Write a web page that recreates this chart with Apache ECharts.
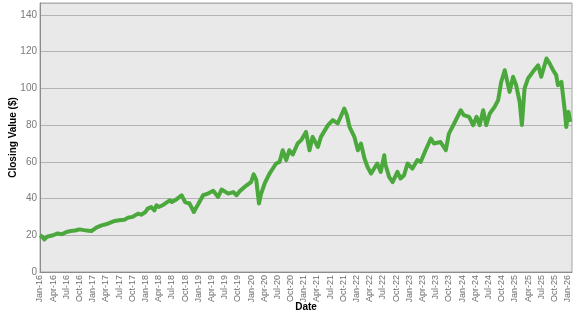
<!DOCTYPE html>
<html>
<head>
<meta charset="utf-8">
<script src="https://cdn.jsdelivr.net/npm/echarts@6/dist/echarts.min.js"></script>
<style>
html,body{margin:0;padding:0;background:#fff;}
#chart{width:577px;height:315px;}
</style>
</head>
<body>
<div id="chart"></div>
<script>
var dates = [
"2016-01-01","2016-01-16","2016-02-01","2016-02-16","2016-03-01","2016-04-01","2016-05-01","2016-06-01","2016-07-01","2016-08-01",
"2016-09-01","2016-10-01","2016-11-01","2016-12-01","2016-12-22","2017-01-01","2017-01-25","2017-03-01","2017-04-01","2017-06-01",
"2017-07-01","2017-08-07","2017-09-01","2017-10-01","2017-11-10","2017-12-01","2018-01-01","2018-01-16","2018-02-10","2018-03-01",
"2018-03-16","2018-04-01","2018-05-01","2018-06-16","2018-07-01","2018-08-01","2018-09-07","2018-10-01","2018-11-01","2018-12-01",
"2018-12-16","2019-01-01","2019-02-04","2019-03-01","2019-04-13","2019-05-16","2019-06-10","2019-07-25","2019-09-01","2019-09-22",
"2019-10-16","2019-12-01","2020-01-01","2020-01-19","2020-02-07","2020-02-25","2020-03-10","2020-04-04","2020-05-07","2020-06-22",
"2020-07-16","2020-08-07","2020-09-01","2020-09-22","2020-10-16","2020-11-19","2020-12-13","2021-01-16","2021-02-10","2021-03-01",
"2021-04-07","2021-04-28","2021-06-16","2021-07-19","2021-08-22","2021-09-10","2021-10-07","2021-10-25","2021-11-13","2021-12-16",
"2022-01-10","2022-02-01","2022-02-25","2022-03-16","2022-04-10","2022-05-22","2022-06-16","2022-07-10","2022-07-16","2022-08-13",
"2022-09-07","2022-10-10","2022-11-01","2022-11-25","2022-12-19","2023-01-22","2023-02-25","2023-03-19","2023-04-22","2023-05-28",
"2023-06-19","2023-08-04","2023-09-10","2023-10-01","2023-11-07","2023-12-22","2024-01-13","2024-02-19","2024-03-16","2024-04-10",
"2024-05-01","2024-05-25","2024-06-16","2024-07-10","2024-08-13","2024-09-07","2024-09-28","2024-10-22","2024-11-25","2024-12-19",
"2025-01-10","2025-02-04","2025-02-19","2025-03-07","2025-04-01","2025-05-04","2025-06-10","2025-07-01","2025-08-07","2025-08-28",
"2025-09-22","2025-10-13","2025-10-25","2025-11-19","2025-12-10","2025-12-22","2026-01-07","2026-01-19"
];
// Closing values ($)
var closes = [
20,19.2,17.7,19,19.5,20,21,20.6,21.8,22.3,
22.6,23.2,22.8,22.5,22.3,22.7,24.2,25.4,26,27.8,
28.2,28.5,29.5,30,31.8,31.2,32.7,34.5,35.4,33.5,
36.3,35.4,36.5,39,38.1,39.5,41.8,38.1,37.3,32.7,
35,37,41.8,42.5,44.2,40.9,44.9,42.7,43.5,41.8,
44.2,47.2,49,53.2,50,37.3,42.7,48.2,53.6,59.1,
60,66.3,60.9,66.3,64,70,71.8,76.3,66.3,73.6,
68.1,73.6,80,82.7,80.9,84,89,85.4,79,73.6,
66.3,70,61.8,57.2,53.6,59.1,54.5,63.6,59.1,51.8,
49,54.5,50.9,52.7,59.1,56.3,60.9,60,66.3,72.7,
70,70.8,66.3,75.4,80.9,88.1,85.4,84.5,80,84.5,
80,88.1,80,86.3,89.9,93.6,103.5,109.9,98.1,106.3,
101.7,92.6,80,99.9,105.4,109,112.6,106.3,116.3,113.6,
109.9,107.2,101.7,103.5,89,79,87.2,81.8
];
// Tick labels
var quarterNames = ["Jan","Apr","Jul","Oct"];
var yTicks = [0,20,40,60,80,100,120,140];

function monthIndex(s){
  var p = s.split("-");
  return (parseInt(p[0],10)-2016)*12 + (parseInt(p[1],10)-1) + (parseInt(p[2],10)-1)/30;
}
var seriesData = dates.map(function(d,i){ return [monthIndex(d), closes[i]]; });

var chart = echarts.init(document.getElementById("chart"), null, {renderer:"canvas"});
chart.setOption({
  animation:false,
  backgroundColor:"#ffffff",
  grid:{left:40,right:5,top:3,bottom:43,show:true,backgroundColor:"#e9e9e9",borderColor:"#a6a6a6",borderWidth:1,containLabel:false,outerBoundsMode:"none"},
  xAxis:{
    type:"value",min:0,max:121,interval:3,
    name:"Date",nameLocation:"middle",nameGap:30,nameMoveOverlap:false,
    nameTextStyle:{fontFamily:"Liberation Sans, Arial",fontWeight:"bold",fontSize:10,color:"#000"},
    axisLine:{show:true,lineStyle:{color:"#8c8c8c"}},
    axisTick:{show:false},
    splitLine:{show:false},
    axisLabel:{
      rotate:90,fontSize:9,color:"#6e6e6e",fontFamily:"Liberation Sans, Arial",margin:3,
      showMaxLabel:false,
      formatter:function(v){
        if (Math.abs(v % 3) > 1e-6) return "";
        var q = Math.round(v/3);
        return quarterNames[q % 4] + "-" + (16 + Math.floor(q/4));
      }
    }
  },
  yAxis:{
    type:"value",min:yTicks[0],max:146.5,interval:yTicks[1]-yTicks[0],
    name:"Closing Value ($)",nameLocation:"middle",nameGap:22,nameMoveOverlap:false,
    nameTextStyle:{fontFamily:"Liberation Sans, Arial",fontWeight:"bold",fontSize:10,color:"#000"},
    axisLine:{show:true,lineStyle:{color:"#8c8c8c"}},
    axisTick:{show:false},
    splitLine:{show:true,lineStyle:{color:"#b3b3b3",width:1}},
    axisLabel:{fontSize:10,color:"#7a7a7a",fontFamily:"Liberation Sans, Arial",margin:3,showMaxLabel:false,
      formatter:function(v){ return yTicks.indexOf(v) >= 0 ? String(v) : ""; }}
  },
  series:[{
    type:"line",data:seriesData,showSymbol:false,symbol:"none",smooth:false,
    lineStyle:{color:"#4ba83c",width:4,join:"round"},
    itemStyle:{color:"#4ba83c"}
  }]
});
</script>
</body>
</html>
